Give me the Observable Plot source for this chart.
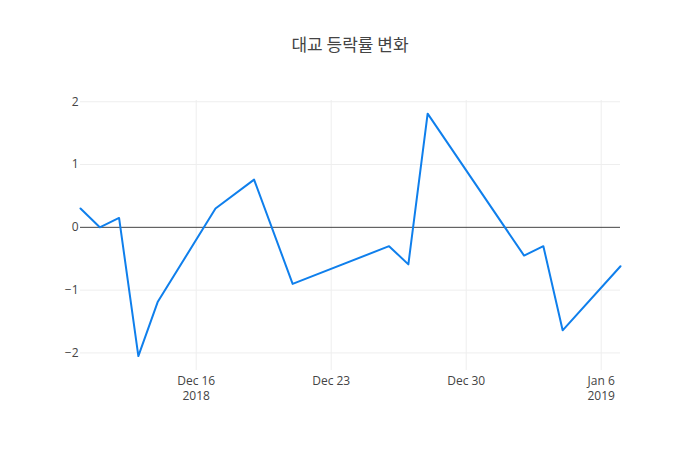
<!DOCTYPE html>
<html>
<head>
<meta charset="utf-8">
<script src="https://cdn.jsdelivr.net/npm/d3@7"></script>
<script src="https://cdn.jsdelivr.net/npm/@observablehq/plot@0.6"></script>
<style>
  html, body { margin: 0; padding: 0; background: #fff; }
  #wrap { width: 700px; height: 450px; position: relative; }
  #title { height: 85px; width: 700px; text-align: center; font-family: "Noto Sans CJK KR", "Open Sans", sans-serif; font-size: 17px; color: #444; line-height: 1; padding-top: 35px; box-sizing: border-box; }
</style>
</head>
<body>
<div id="wrap">
  <div id="title">대교 등락률 변화</div>
  <div id="chart"></div>
</div>
<script>
const dates = ["2018-12-10","2018-12-11","2018-12-12","2018-12-13","2018-12-14","2018-12-17","2018-12-19","2018-12-21","2018-12-26","2018-12-27","2018-12-28","2019-01-02","2019-01-03","2019-01-04","2019-01-07"];
const changes = [0.30, 0.00, 0.15, -2.05, -1.19, 0.30, 0.76, -0.90, -0.30, -0.59, 1.81, -0.45, -0.30, -1.64, -0.62];
const xTicks = ["2018-12-16","2018-12-23","2018-12-30","2019-01-06"];
const xTickLabels = ["Dec 16\n2018","Dec 23","Dec 30","Jan 6\n2019"];
const yTicks = [-2, -1, 0, 1, 2];
const yGrid = [-2, -1, 1, 2];

const data = dates.map((d, i) => ({date: new Date(d), value: changes[i]}));
const tickDates = xTicks.map(d => new Date(d));
const labelOf = new Map(tickDates.map((d, i) => [+d, xTickLabels[i]]));

const chart = Plot.plot({
  width: 700,
  height: 365,
  marginTop: 15,
  marginBottom: 80,
  marginLeft: 80,
  marginRight: 80,
  style: {fontFamily: "'Open Sans', sans-serif", fontSize: "12px", color: "#444", background: "#fff"},
  x: {type: "utc", domain: [new Date(dates[0]), new Date(dates[dates.length - 1])]},
  y: {domain: [-2.28, 2.02]},
  marks: [
    Plot.gridX(tickDates, {stroke: "#eee", strokeOpacity: 1}),
    Plot.gridY(yGrid, {stroke: "#eee", strokeOpacity: 1}),
    Plot.ruleY([0], {stroke: "#444", strokeWidth: 1}),
    Plot.lineY(data, {x: "date", y: "value", stroke: "#0f7fec", strokeWidth: 2}),
    Plot.axisX(tickDates, {tickSize: 0, tickPadding: 3, label: null, tickFormat: d => labelOf.get(+d), fill: "#444", lineHeight: 1.3}),
    Plot.axisY(yTicks, {tickSize: 0, tickPadding: 2, label: null, fill: "#444", tickFormat: d => d < 0 ? "\u2212" + Math.abs(d) : String(d)})
  ]
});
document.getElementById("chart").appendChild(chart);
</script>
</body>
</html>
